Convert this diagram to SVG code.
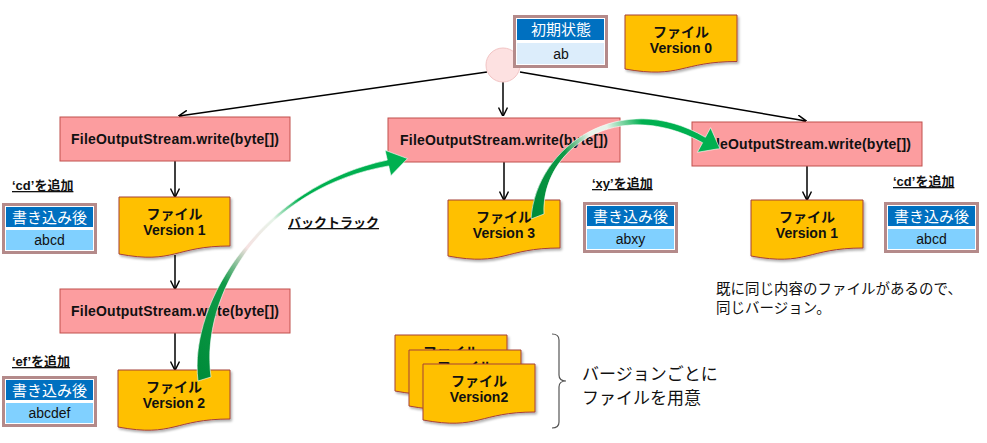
<svg xmlns="http://www.w3.org/2000/svg" width="987" height="443" viewBox="0 0 987 443">
<defs>
<style>
.t{font-family:"Liberation Sans","Noto Sans CJK JP",sans-serif;}
.wr{fill:#fc9d9f;stroke:#c0504d;stroke-width:1;}
.wt{font-size:14px;font-weight:bold;fill:#111;text-anchor:middle;}
.doc{fill:#ffc000;stroke:#a5403a;stroke-width:1;}
.dt{font-size:14px;font-weight:bold;fill:#111;text-anchor:middle;}
.ib{fill:#fff;stroke:#b48a8a;stroke-width:3;}
.ih{fill:#0070c0;}
.ibd{fill:#80d0ff;}
.iht{font-size:15px;fill:#fff;text-anchor:middle;}
.ibt{font-size:14px;fill:#111;text-anchor:middle;}
.lb{font-size:13px;font-weight:bold;fill:#111;text-decoration:underline;}
.ln{fill:none;stroke:#000;stroke-width:1.5;marker-end:url(#ah);}
.nt{font-size:14.5px;fill:#111;}
.bt{font-size:17px;fill:#111;}
</style>
<marker id="ah" viewBox="0 0 10 10" refX="9.5" refY="5" markerWidth="9" markerHeight="10" orient="auto" markerUnits="userSpaceOnUse">
<path d="M0,0 L10,5 L0,10" fill="none" stroke="#000" stroke-width="1.6"/>
</marker>
<filter id="sh" x="-10%" y="-10%" width="130%" height="140%">
<feDropShadow dx="1.5" dy="2" stdDeviation="1.2" flood-color="#000" flood-opacity="0.3"/>
</filter>
<linearGradient id="g1" gradientUnits="userSpaceOnUse" x1="205" y1="378" x2="405" y2="158">
<stop offset="0" stop-color="#008c3a"/>
<stop offset="0.28" stop-color="#109a48"/>
<stop offset="0.42" stop-color="#f6e2e2"/>
<stop offset="0.55" stop-color="#e6f3e8"/>
<stop offset="0.66" stop-color="#00b050"/>
<stop offset="1" stop-color="#00b050"/>
</linearGradient>
<linearGradient id="g2" gradientUnits="userSpaceOnUse" x1="538" y1="217" x2="718" y2="148">
<stop offset="0" stop-color="#008c3a"/>
<stop offset="0.25" stop-color="#109a48"/>
<stop offset="0.4" stop-color="#e8f4ea"/>
<stop offset="0.5" stop-color="#e8f4ea"/>
<stop offset="0.68" stop-color="#00b050"/>
<stop offset="1" stop-color="#00b050"/>
</linearGradient>
</defs>

<g id="connectors">
<line class="ln" x1="487" y1="72" x2="179" y2="116"/>
<line class="ln" x1="503" y1="82" x2="503" y2="116"/>
<line class="ln" x1="520" y1="72" x2="806" y2="121"/>
<line class="ln" x1="175" y1="161" x2="175" y2="197"/>
<line class="ln" x1="175" y1="255" x2="175" y2="289"/>
<line class="ln" x1="175" y1="333" x2="175" y2="370"/>
<line class="ln" x1="504" y1="162" x2="504" y2="200"/>
<line class="ln" x1="807" y1="166" x2="807" y2="200"/>
</g>

<g id="start">
<circle cx="503" cy="65" r="17" fill="#fde1e1" stroke="#f2c4c4" stroke-width="1"/>
</g>

<g id="initial-state">
<rect class="ib" x="514.5" y="16.5" width="92" height="50"/>
<rect class="ih" x="517" y="19" width="87" height="21"/>
<rect x="517" y="43" width="87" height="21" fill="#dcedfb"/>
<text class="t iht" x="561" y="35">初期状態</text>
<text class="t ibt" x="561" y="59">ab</text>
</g>

<g id="file-v0">
<path class="doc" filter="url(#sh)" d="M625,15 H737 V61.5 C681,61.5 681,79 625,69 Z"/>
<text class="t dt" x="681" y="37">ファイル</text>
<text class="t dt" x="681" y="53">Version 0</text>
</g>

<g id="write-left-1">
<rect class="wr" x="60" y="117" width="230" height="44"/>
<text class="t wt" x="175" y="144" textLength="208" lengthAdjust="spacing">FileOutputStream.write(byte[])</text>
</g>

<g id="write-mid">
<rect class="wr" x="388" y="118" width="232" height="44"/>
<text class="t wt" x="504" y="145" textLength="208" lengthAdjust="spacing">FileOutputStream.write(byte[])</text>
</g>

<g id="write-right">
<rect class="wr" x="692" y="122" width="230" height="44"/>
<text class="t wt" x="807" y="149" textLength="208" lengthAdjust="spacing">FileOutputStream.write(byte[])</text>
</g>

<g id="write-left-2">
<rect class="wr" x="60" y="289" width="230" height="44"/>
<text class="t wt" x="175" y="316" textLength="208" lengthAdjust="spacing">FileOutputStream.write(byte[])</text>
</g>

<g id="file-left-v1">
<path class="doc" filter="url(#sh)" d="M119,197 H230 V246 C174.5,246 174.5,264.5 119,254 Z"/>
<text class="t dt" x="174.5" y="219">ファイル</text>
<text class="t dt" x="174.5" y="235">Version 1</text>
</g>

<g id="file-left-v2">
<path class="doc" filter="url(#sh)" d="M118,370 H230 V419 C174,419 174,437.5 118,427 Z"/>
<text class="t dt" x="174" y="392">ファイル</text>
<text class="t dt" x="174" y="408">Version 2</text>
</g>

<g id="file-mid-v3">
<path class="doc" filter="url(#sh)" d="M448,200 H560 V248 C504,248 504,266.5 448,256 Z"/>
<text class="t dt" x="504" y="222">ファイル</text>
<text class="t dt" x="504" y="238">Version 3</text>
</g>

<g id="file-right-v1">
<path class="doc" filter="url(#sh)" d="M751,200 H863 V248 C807,248 807,266.5 751,256 Z"/>
<text class="t dt" x="807" y="222">ファイル</text>
<text class="t dt" x="807" y="238">Version 1</text>
</g>

<g id="info-left-1">
<text class="t lb" x="12" y="190">‘cd’を追加</text>
<rect class="ib" x="3.5" y="204.5" width="92" height="48"/>
<rect class="ih" x="6" y="207" width="87" height="20"/>
<rect class="ibd" x="6" y="230" width="87" height="20"/>
<text class="t iht" x="49.5" y="222.5">書き込み後</text>
<text class="t ibt" x="49.5" y="245">abcd</text>
</g>

<g id="info-left-2">
<text class="t lb" x="12" y="366">‘ef’を追加</text>
<rect class="ib" x="3.5" y="377.5" width="92" height="48"/>
<rect class="ih" x="6" y="380" width="87" height="20"/>
<rect class="ibd" x="6" y="403" width="87" height="20"/>
<text class="t iht" x="49.5" y="395.5">書き込み後</text>
<text class="t ibt" x="49.5" y="418">abcdef</text>
</g>

<g id="info-mid">
<text class="t lb" x="592" y="188">‘xy’を追加</text>
<rect class="ib" x="584.5" y="203.5" width="92" height="48"/>
<rect class="ih" x="587" y="206" width="87" height="20"/>
<rect class="ibd" x="587" y="229" width="87" height="20"/>
<text class="t iht" x="630.5" y="221.5">書き込み後</text>
<text class="t ibt" x="630.5" y="244">abxy</text>
</g>

<g id="info-right">
<text class="t lb" x="893" y="186">‘cd’を追加</text>
<rect class="ib" x="885.5" y="203.5" width="92" height="48"/>
<rect class="ih" x="888" y="206" width="87" height="20"/>
<rect class="ibd" x="888" y="229" width="87" height="20"/>
<text class="t iht" x="931.5" y="221.5">書き込み後</text>
<text class="t ibt" x="931.5" y="244">abcd</text>
</g>

<g id="note-same">
<text class="t nt" x="716" y="294">既に同じ内容のファイルがあるので、</text>
<text class="t nt" x="716" y="313">同じバージョン。</text>
</g>

<g id="backtrack-label">
<text class="t lb" x="288" y="227">バックトラック</text>
</g>

<g id="backtrack-arrows">
<path fill="url(#g1)" stroke="#ffffff" stroke-width="0.6" d="M198,381 C188,300 264,186 387.3,160.1 L385.1,150.3 L407.5,158.6 L390.9,175.7 L388.7,165.9 C262,188 200,296 211,377 Z"/>
<path fill="url(#g2)" stroke="#ffffff" stroke-width="0.6" d="M531,219 C536,145 622,88 705.4,137.3 L710.6,127.7 L719.8,148.5 L697.4,152.3 L702.6,142.7 C618,96 541,148 544,214 Z"/>
</g>

<g id="file-stack">
<path class="doc" filter="url(#sh)" d="M395,335 H507 V383 C451,383 451,401.5 395,391 Z"/>
<text class="t dt" x="451" y="357">ファイル</text>
<path class="doc" filter="url(#sh)" d="M409,350 H521 V398 C465,398 465,416.5 409,406 Z"/>
<text class="t dt" x="465" y="372">ファイル</text>
<path class="doc" filter="url(#sh)" d="M423,364 H535 V412 C479,412 479,430.5 423,420 Z"/>
<text class="t dt" x="479" y="386">ファイル</text>
<text class="t dt" x="479" y="402">Version2</text>
</g>

<g id="brace-note">
<path d="M552,334 Q559,334 559,340 V375 Q559,381 566,381 Q559,381 559,387 V422 Q559,428 552,428" fill="none" stroke="#555" stroke-width="1.2"/>
<text class="t bt" x="582" y="380">バージョンごとに</text>
<text class="t bt" x="582" y="404">ファイルを用意</text>
</g>
</svg>
